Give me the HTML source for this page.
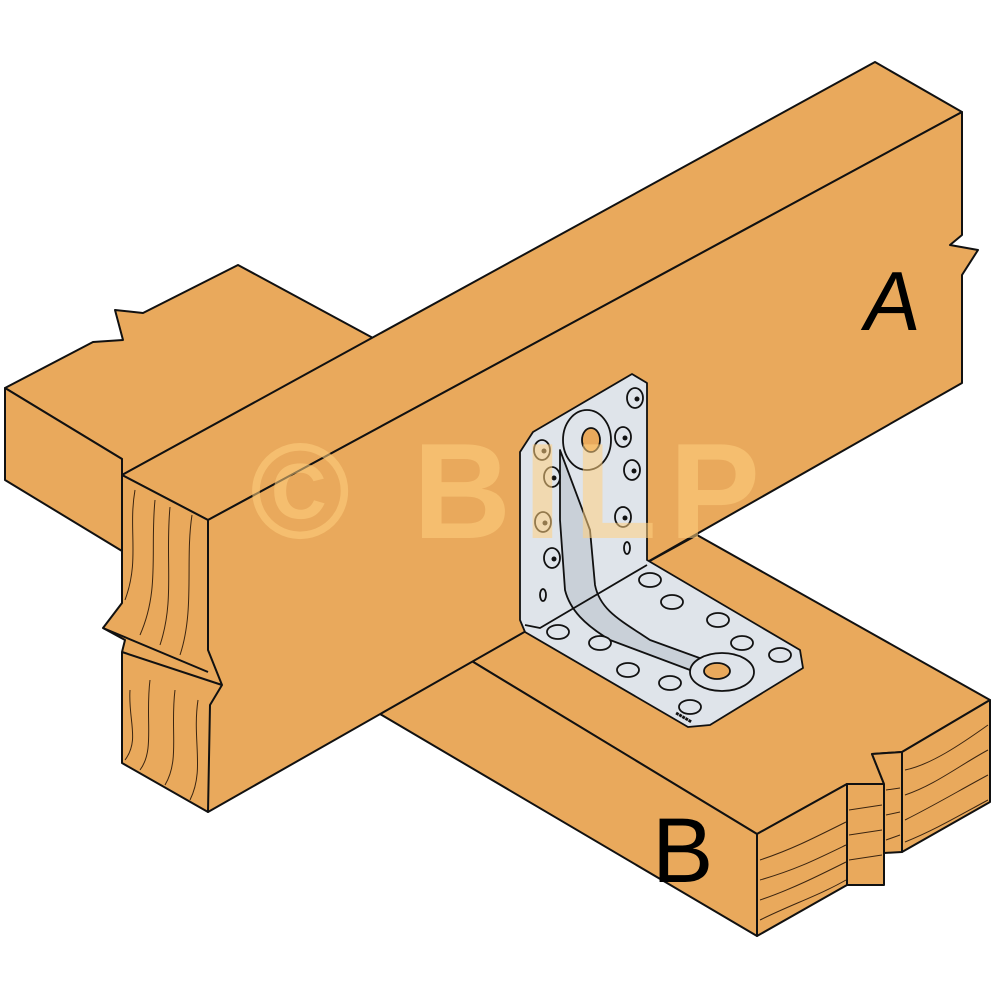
<!DOCTYPE html>
<html><head><meta charset="utf-8"><style>html,body{margin:0;padding:0;background:#fff}svg{display:block}</style></head>
<body>
<svg width="1000" height="1000" viewBox="0 0 1000 1000" xmlns="http://www.w3.org/2000/svg">
<g stroke="#111" stroke-width="2" stroke-linejoin="round" fill="#e9a95c">
<polygon points="5,388 93,342 123,340 115,310 143,313 238,265 373,338 122,475 122,459"/>
<polygon points="5,388 122,459 122,551 5,480"/>
<polygon points="470,660 697,535 990,700 902,752 872,754 884,784 847,784 757,834"/>
<polygon points="380,714 470,660 757,834 757,936"/>
<polygon points="757,834 847,784 847,885 757,936"/>
<polygon points="847,784 884,784 884,885 847,885"/>
<polygon points="872,754 902,752 902,852 884,853 884,784"/>
<polygon points="902,752 990,700 990,802 902,852"/>
<polygon points="122,475 875,62 962,112 208,520"/>
<polygon points="208,520 962,112 962,235 950,245 978,250 962,275 962,383 208,812"/>
<polygon points="122,475 208,520 208,650 222,685 210,705 208,812 122,763 122,652 125,640 103,628 122,603"/>
</g>
<g stroke="#111" stroke-width="2" fill="none">
<path d="M103,628 L208,672"/>
<path d="M122,652 L222,685"/>
</g>
<g stroke="#3a2410" stroke-width="1" fill="none">
<path d="M135,490 C128,530 140,560 125,600"/>
<path d="M155,500 C150,550 160,590 140,635"/>
<path d="M170,507 C165,560 175,600 160,645"/>
<path d="M192,515 C185,560 195,610 180,655"/>
<path d="M130,690 C128,720 140,740 125,760"/>
<path d="M150,680 C145,720 155,750 140,770"/>
<path d="M175,690 C170,730 180,760 165,785"/>
<path d="M198,700 C192,740 205,770 190,800"/>
<path d="M760,860 C790,850 810,840 846,822"/>
<path d="M760,880 C795,870 815,860 846,845"/>
<path d="M760,900 C790,890 820,875 846,862"/>
<path d="M760,920 C790,905 820,895 846,880"/>
<path d="M849,810 L882,805 M849,835 L882,830 M849,860 L882,855"/>
<path d="M886,790 L900,788 M886,815 L900,812 M886,840 L900,835"/>
<path d="M905,770 C930,765 960,745 988,725"/>
<path d="M905,795 C935,785 960,765 988,750"/>
<path d="M905,820 C935,805 960,790 988,775"/>
<path d="M905,842 C935,830 960,815 988,800"/>
</g>
<g stroke="#111" stroke-width="1.8" stroke-linejoin="round">
<polygon fill="#dfe4ea" points="520,452 533,432 632,374 647,383 647,560 800,650 803,668 710,725 688,727 525,632 520,620"/>
<path fill="#c9d0d8" d="M560,450 L590,530 L595,585 C600,610 620,620 650,640 L705,660 L690,670 L610,640 C585,625 570,610 565,590 L560,520 Z"/>
<ellipse cx="587" cy="440" rx="24" ry="30" fill="#dfe4ea"/>
<ellipse cx="591" cy="440" rx="9" ry="12" fill="#e9a95c"/>
<ellipse cx="722" cy="672" rx="32" ry="19" fill="#dfe4ea"/>
<ellipse cx="717" cy="671" rx="13" ry="8" fill="#e9a95c"/>
<path fill="none" d="M525,625 L540,628 L647,565"/>
</g>
<g fill="#dfe4ea" stroke="#111" stroke-width="1.8">
<ellipse cx="635" cy="398" rx="8" ry="10"/><ellipse cx="623" cy="437" rx="8" ry="10"/>
<ellipse cx="632" cy="470" rx="8" ry="10"/><ellipse cx="623" cy="517" rx="8" ry="10"/>
<ellipse cx="542" cy="450" rx="8" ry="10"/><ellipse cx="552" cy="477" rx="8" ry="10"/>
<ellipse cx="543" cy="522" rx="8" ry="10"/><ellipse cx="552" cy="558" rx="8" ry="10"/>
<ellipse cx="627" cy="548" rx="3" ry="6"/><ellipse cx="543" cy="595" rx="3" ry="6"/>
<ellipse cx="650" cy="580" rx="11" ry="7"/><ellipse cx="672" cy="602" rx="11" ry="7"/>
<ellipse cx="718" cy="620" rx="11" ry="7"/><ellipse cx="742" cy="643" rx="11" ry="7"/>
<ellipse cx="780" cy="655" rx="11" ry="7"/><ellipse cx="558" cy="632" rx="11" ry="7"/>
<ellipse cx="600" cy="643" rx="11" ry="7"/><ellipse cx="628" cy="670" rx="11" ry="7"/>
<ellipse cx="670" cy="683" rx="11" ry="7"/><ellipse cx="690" cy="707" rx="11" ry="7"/>
</g>
<g fill="#111">
<circle cx="637" cy="399" r="2.5"/><circle cx="625" cy="438" r="2.5"/><circle cx="634" cy="471" r="2.5"/><circle cx="625" cy="518" r="2.5"/>
<circle cx="544" cy="451" r="2.5"/><circle cx="554" cy="478" r="2.5"/><circle cx="545" cy="523" r="2.5"/><circle cx="554" cy="559" r="2.5"/>
</g>
<text x="680" y="705" font-family="Liberation Sans, sans-serif" font-size="6" fill="#111" transform="rotate(30 660 700)">■■■■■</text>
<text x="250" y="538" font-family="Liberation Sans, sans-serif" font-weight="bold" font-size="136" fill="#ffd080" fill-opacity="0.55" textLength="510" lengthAdjust="spacing">© BILP</text>
<text x="862" y="330" font-family="Liberation Sans, sans-serif" font-size="84" fill="#000" transform="skewX(-8) translate(45,0)">A</text>
<text x="652" y="882" font-family="Liberation Sans, sans-serif" font-size="92" fill="#000">B</text>
</svg>
</body></html>
